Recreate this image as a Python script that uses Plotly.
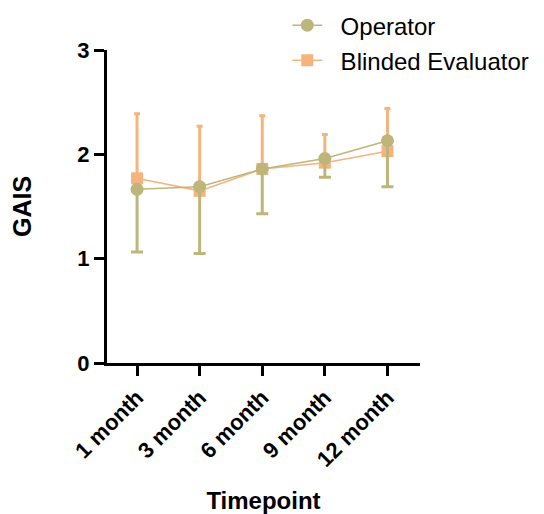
import plotly.graph_objects as go

timepoints = ["1 month", "3 month", "6 month", "9 month", "12 month"]

operator_mean = [1.665, 1.69, 1.86, 1.96, 2.13]
operator_err_lower = [0.60, 0.64, 0.43, 0.18, 0.44]

blinded_mean = [1.77, 1.65, 1.86, 1.92, 2.03]
blinded_err_upper = [0.62, 0.62, 0.51, 0.27, 0.41]

olive = "#BDB67B"
orange = "#F5B47E"
font_family = "Liberation Sans, Arial, sans-serif"
pad = "\u00a0\u00a0"

fig = go.Figure()

fig.add_trace(go.Scatter(
    x=timepoints, y=blinded_mean, name=pad + "Blinded Evaluator",
    mode="lines+markers",
    line=dict(color=orange, width=1.5),
    marker=dict(symbol="square", size=12, color=orange),
    error_y=dict(type="data", symmetric=False, array=blinded_err_upper,
                 arrayminus=[0] * len(blinded_err_upper),
                 color=orange, thickness=3, width=3),
    legendgroup="b", legendrank=2,
))

fig.add_trace(go.Scatter(
    x=timepoints, y=operator_mean, name=pad + "Operator",
    mode="lines+markers",
    line=dict(color=olive, width=1.5),
    marker=dict(symbol="circle", size=13, color=olive),
    error_y=dict(type="data", symmetric=False, array=[0] * len(operator_err_lower),
                 arrayminus=operator_err_lower,
                 color=olive, thickness=3, width=6),
    legendgroup="a", legendrank=1,
))

fig.update_layout(
    width=544, height=514,
    margin=dict(l=99, r=132, t=42, b=159, autoexpand=False),
    plot_bgcolor="white", paper_bgcolor="white",
    font=dict(family=font_family, color="black"),
    showlegend=True,
    legend=dict(x=0.576, y=1.15, xanchor="left", yanchor="top",
                font=dict(size=24, family=font_family), bgcolor="rgba(0,0,0,0)",
                itemwidth=30, traceorder="grouped", tracegroupgap=1),
    xaxis=dict(
        range=[-0.48, 4.52], showline=True, linecolor="black", linewidth=3,
        ticks="outside", ticklen=10, tickwidth=3, tickcolor="black",
        tickangle=-45, tickfont=dict(size=22, weight="bold"),
        showgrid=False, zeroline=False, automargin=False,
        title=dict(text="Timepoint", font=dict(size=24, weight="bold"), standoff=22),
    ),
    yaxis=dict(
        range=[0, 3], showline=True, linecolor="black", linewidth=3,
        tickvals=[0, 1, 2, 3], ticks="outside", ticklen=10, tickwidth=3, tickcolor="black",
        tickfont=dict(size=22, weight="bold"),
        showgrid=False, zeroline=False, automargin=False,
        title=dict(text="GAIS", font=dict(size=25, weight="bold"), standoff=40),
    ),
)

fig.write_html("out.html")
